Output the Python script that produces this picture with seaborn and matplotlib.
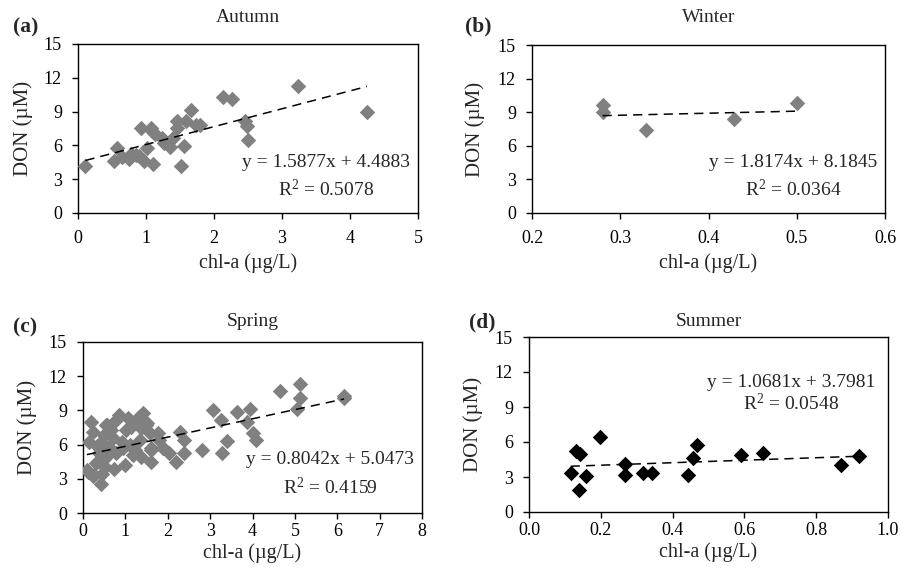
import numpy as np
import pandas as pd
import matplotlib
matplotlib.use("Agg")
import matplotlib.pyplot as plt
import seaborn as sns

# ---------------- data ----------------
autumn_x = [0.11, 0.53, 0.58, 0.64, 0.75, 0.78, 0.86, 0.90, 0.93, 0.97, 1.01, 1.07, 1.09, 1.13, 1.11,
            1.24, 1.26, 1.36, 1.40, 1.46, 1.46, 1.52, 1.56, 1.59, 1.66, 1.73, 1.80, 2.13, 2.26,
            2.46, 2.49, 2.50, 3.24, 4.25]
autumn_y = [4.18, 4.60, 5.76, 4.93, 4.78, 5.22, 5.19, 5.05, 7.54, 4.60, 5.76, 7.54, 7.27, 7.03, 4.33,
            6.70, 6.17, 5.88, 6.70, 7.54, 8.19, 4.18, 5.93, 8.19, 9.14, 7.80, 7.80, 10.33, 10.12,
            8.13, 7.74, 6.50, 11.30, 8.99]

winter_x = [0.28, 0.28, 0.329, 0.429, 0.50]
winter_y = [9.67, 9.04, 7.40, 8.42, 9.79]

spring_x = [0.19, 0.23, 0.15, 0.11, 0.27, 0.43, 0.35, 0.43, 0.54, 0.58, 0.47, 0.51, 0.57, 0.61, 0.67,
            0.78, 0.86, 1.06, 1.13, 1.33, 1.41, 1.49, 1.57, 1.76, 1.80, 1.61, 1.37, 1.61, 1.88, 2.04,
            2.20, 2.28, 2.39, 2.39, 0.98, 0.74, 0.79, 0.91, 0.94, 1.02, 1.17, 1.26, 1.34, 1.36,
            1.50, 1.60, 1.89, 0.38, 0.45, 0.24, 0.09, 0.62, 0.70, 1.10, 1.22, 0.30, 0.50,
            2.82, 3.07, 3.25, 3.28, 3.40, 3.64, 3.86, 3.94, 4.00, 4.09, 4.66, 5.06, 5.13, 5.13, 6.16, 6.16]
spring_y = [8.00, 7.13, 6.25, 3.60, 3.30, 2.58, 5.80, 6.25, 7.71, 6.98, 4.63, 4.05, 7.71, 5.80, 7.27,
            8.15, 8.59, 8.30, 7.57, 8.45, 8.74, 7.71, 6.98, 6.98, 6.39, 5.66, 4.93, 4.49, 5.66, 5.22,
            4.49, 7.13, 6.39, 5.22, 4.19, 3.90, 5.22, 6.25, 5.66, 7.27, 5.07, 8.15, 6.39, 7.42,
            7.86, 5.57, 5.66, 5.22, 3.46, 3.26, 3.75, 5.20, 6.60, 6.00, 5.50, 4.40, 6.80,
            5.57, 9.03, 8.15, 5.22, 6.30, 8.89, 8.00, 9.12, 6.98, 6.39, 10.73, 9.12, 11.29, 10.12, 10.29, 10.06]

summer_x = [0.116, 0.130, 0.142, 0.140, 0.159, 0.198, 0.268, 0.268, 0.317, 0.342, 0.442, 0.458,
            0.469, 0.591, 0.651, 0.869, 0.918]
summer_y = [3.34, 5.20, 5.00, 1.91, 3.06, 6.46, 4.11, 3.17, 3.34, 3.34, 3.20, 4.66,
            5.74, 4.91, 5.06, 4.03, 4.77]

slopes = [1.5877, 1.8174, 0.8042, 1.0681]
intercepts = [4.4883, 8.1845, 5.0473, 3.7981]
r2_values = ["0.5078", "0.0364", "0.4159", "0.0548"]
titles = ["Autumn", "Winter", "Spring", "Summer"]
panel_tags = ["(a)", "(b)", "(c)", "(d)"]
x_limits = [(0, 5), (0.2, 0.6), (0, 8), (0.0, 1.0)]
x_steps = [1, 0.1, 1, 0.2]
x_formats = ["{:.0f}", "{:.1f}", "{:.0f}", "{:.1f}"]
y_ticks = [0, 3, 6, 9, 12, 15]
marker_colors = ["#808080", "#808080", "#808080", "#000000"]

# ---------------- style ----------------
sns.set_theme(style="white")
plt.rcParams["font.family"] = ["Liberation Serif", "DejaVu Serif"]
plt.rcParams["mathtext.fontset"] = "custom"
plt.rcParams["mathtext.rm"] = "Liberation Serif"
plt.rcParams["mathtext.it"] = "Liberation Serif:italic"
plt.rcParams["mathtext.bf"] = "Liberation Serif:bold"
plt.rcParams["axes.edgecolor"] = "black"
plt.rcParams["axes.linewidth"] = 1.0

fig = plt.figure(figsize=(9.13, 5.74), dpi=100)
W, H = 913, 574
# axes boxes in pixels: left, top, right, bottom
boxes = [(78, 44, 418, 213), (532, 45, 885, 213), (83, 342, 422, 513), (529, 337, 888, 512)]
text_pos = [(0.73, 0.30, 0.14), (0.74, 0.30, 0.14), (0.73, 0.31, 0.15), (0.73, 0.74, 0.62)]
# pixel offsets: tag left offset, tag center above top, title center above top,
# x tick pad (pt), xlabel center below bottom, ylabel center offset
tag_dx = [-65, -67, -70, -60]
tag_dy = [17, 19, 15, 15]
title_dy = [27, 28, 20, 15]
xpad = [8.5, 8.5, 3.0, 3.0]
xlab_dy = [50, 50, 40, 40]
ylab_dx = [-55, -57, -56, -56]

datasets = [(autumn_x, autumn_y), (winter_x, winter_y), (spring_x, spring_y), (summer_x, summer_y)]

for i, (xs, ys) in enumerate(datasets):
    l, t, r, b = boxes[i]
    aw, ah = r - l, b - t
    ax = fig.add_axes([l / W, 1 - b / H, aw / W, ah / H])
    df = pd.DataFrame({"chl": xs, "don": ys})
    sns.scatterplot(data=df, x="chl", y="don", ax=ax, marker="D", s=62,
                    color=marker_colors[i], edgecolor=marker_colors[i], linewidth=0, zorder=3)
    xl = np.array([min(xs), max(xs)])
    line_df = pd.DataFrame({"chl": xl, "don": slopes[i] * xl + intercepts[i]})
    sns.lineplot(data=line_df, x="chl", y="don", ax=ax, color="black", lw=1.1,
                 linestyle=(0, (6, 4)), zorder=4)

    x0, x1 = x_limits[i]
    ax.set_xlim(x0, x1)
    ax.set_ylim(0, 15)
    xt = np.round(np.arange(x0, x1 + x_steps[i] / 2, x_steps[i]), 3)
    ax.set_xticks(xt)
    ax.set_xticklabels([x_formats[i].format(v) for v in xt])
    ax.set_yticks(y_ticks)
    ax.tick_params(axis="both", which="both", direction="out", length=4, width=1,
                   bottom=True, left=True, top=False, right=False, labelsize=13, colors="black")
    ax.tick_params(axis="x", pad=xpad[i])
    ax.tick_params(axis="y", pad=7.5)
    for sp in ax.spines.values():
        sp.set_visible(True)
        sp.set_color("black")
    ax.set_xlabel("chl-a (µg/L)", fontsize=14.5, va="center")
    ax.xaxis.set_label_coords(0.5, -xlab_dy[i] / ah)
    ax.set_ylabel("DON (µM)", fontsize=15, va="center")
    ax.yaxis.set_label_coords(ylab_dx[i] / aw, 0.5)
    ax.text(0.5, 1 + title_dy[i] / ah, titles[i], transform=ax.transAxes, fontsize=14,
            ha="center", va="center")
    ax.text(tag_dx[i] / aw, 1 + tag_dy[i] / ah, panel_tags[i], transform=ax.transAxes,
            fontsize=15.5, fontweight="bold", ha="left", va="center")

    tx, ty1, ty2 = text_pos[i]
    ax.text(tx, ty1, "y = {}x + {}".format(slopes[i], intercepts[i]), transform=ax.transAxes,
            ha="center", va="center", fontsize=14)
    ax.text(tx, ty2, "R$^2$ = {}".format(r2_values[i]), transform=ax.transAxes,
            ha="center", va="center", fontsize=14)
    if ax.get_legend() is not None:
        ax.get_legend().remove()

fig.savefig("out.png", dpi=100)
